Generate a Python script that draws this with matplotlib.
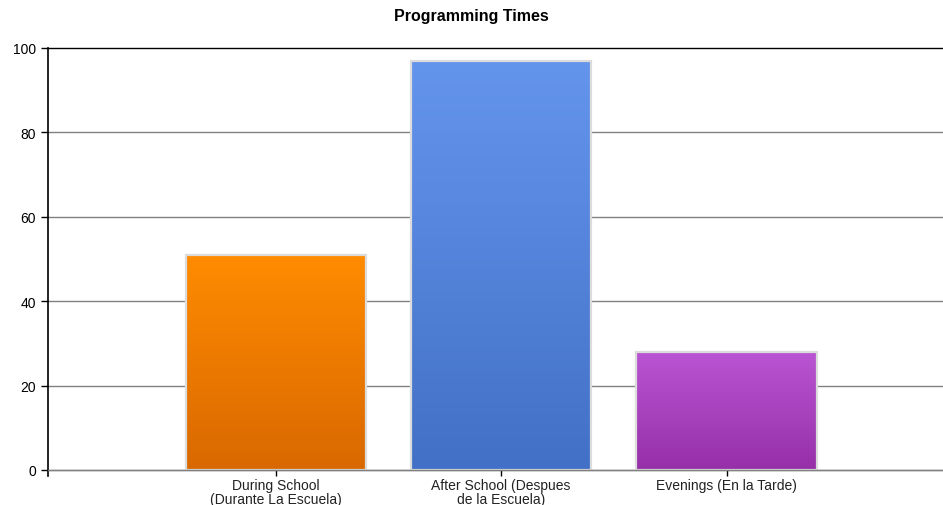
import matplotlib
matplotlib.use("Agg")
import matplotlib.pyplot as plt
import numpy as np
from matplotlib.colors import LinearSegmentedColormap

categories = ["During School\n(Durante La Escuela)",
              "After School (Despues\nde la Escuela)",
              "Evenings (En la Tarde)"]
values = [51, 97, 28]
top_colors = ["#ff8c00", "#6495ed", "#ba55d3"]
bottom_colors = ["#d96800", "#4270c6", "#962fa8"]
y_ticks = [0, 20, 40, 60, 80, 100]

plt.rcParams["font.family"] = ["Liberation Sans", "DejaVu Sans"]

fig = plt.figure(figsize=(9.43, 5.06), dpi=100)
ax = fig.add_axes([48 / 943, 1 - 471 / 506, 1 - 48 / 943, (471 - 49) / 506])

x = np.arange(len(values))
width = 0.8
ax.set_xlim(-1.01, 2.96)
ax.set_ylim(0, 100)

for yt in y_ticks:
    ax.axhline(yt, color="#000000" if yt == 100 else "#808080",
               linewidth=1.0, zorder=1, clip_on=False)

grad = np.linspace(0, 1, 256).reshape(-1, 1)
for xi, v, ct, cb in zip(x, values, top_colors, bottom_colors):
    cmap = LinearSegmentedColormap.from_list("g", [cb, ct])
    bar = ax.bar(xi, v, width=width, color="none", edgecolor="#dcdcdc",
                 linewidth=1.6, zorder=3)[0]
    im = ax.imshow(grad, cmap=cmap, aspect="auto", origin="lower",
                   extent=(xi - width / 2, xi + width / 2, 0, v), zorder=2)
    im.set_clip_path(bar)
ax.axhline(0, color="#808080", linewidth=1.0, zorder=4, clip_on=False)

ax.set_xlim(-1.01, 2.96)
ax.set_ylim(0, 100)
ax.set_xticks(x)
ax.set_xticklabels(categories, fontsize=10, color="#222222", linespacing=0.95)
ax.set_yticks(y_ticks)
ax.tick_params(axis="y", labelsize=10, length=5, width=1, colors="#000000")
ax.tick_params(axis="x", length=4, width=1, pad=2)

for s in ["top", "right", "bottom"]:
    ax.spines[s].set_visible(False)
ax.spines["left"].set_color("#000000")
ax.spines["left"].set_linewidth(1.2)
ax.spines["left"].set_bounds(-1.5, 100)
ax.spines["left"].set_clip_on(False)
ax.set_ylim(0, 100)

fig.text(0.5, 1 - 16 / 506, "Programming Times", ha="center", va="center",
         fontsize=11.5, fontweight="bold")

fig.savefig("out.png", dpi=100)
